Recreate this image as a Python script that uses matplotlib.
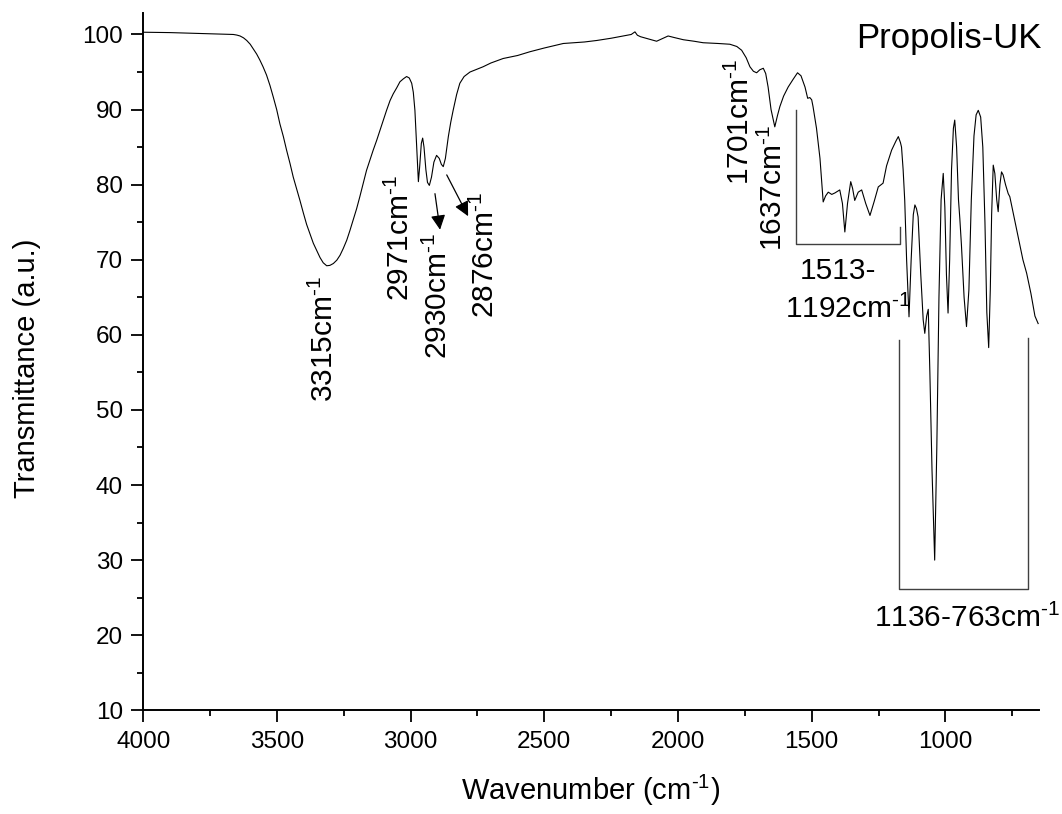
import matplotlib
matplotlib.use("Agg")
import matplotlib.pyplot as plt
from matplotlib.ticker import MultipleLocator

plt.rcParams['font.family'] = ['Liberation Sans', 'DejaVu Sans']
plt.rcParams['mathtext.fontset'] = 'custom'
plt.rcParams['mathtext.rm'] = 'Liberation Sans'
plt.rcParams['mathtext.it'] = 'Liberation Sans'
plt.rcParams['mathtext.default'] = 'regular'

# ---- data ----
wavenumber = [4000, 3900, 3800, 3720, 3690, 3663, 3650, 3638, 3625, 3613, 3600, 3589, 3576,
              3564, 3552, 3539, 3526, 3514, 3501, 3489, 3476, 3464, 3451, 3439, 3426,
              3414, 3401, 3389, 3376, 3364, 3351, 3339, 3327, 3314, 3302, 3289, 3276,
              3264, 3252, 3239, 3227, 3215, 3202, 3190, 3178, 3165, 3152, 3140, 3127,
              3115, 3102, 3090, 3077, 3065, 3052, 3040, 3027, 3015, 3005, 2996, 2990,
              2984, 2978, 2971, 2966, 2960, 2955, 2950, 2943, 2937, 2930, 2922, 2913,
              2903, 2893, 2885, 2878, 2870, 2859, 2850, 2841, 2828, 2816, 2800, 2778,
              2729, 2700, 2654, 2600, 2554, 2500, 2429, 2350, 2304, 2250, 2205, 2175,
              2161, 2152, 2140, 2110, 2080, 2055, 2037, 2015, 1980, 1940, 1906, 1850,
              1806, 1780, 1762, 1745, 1731, 1718, 1706, 1694, 1681, 1672, 1663, 1652,
              1638, 1628, 1619, 1605, 1588, 1570, 1553, 1540, 1525, 1515, 1507, 1500,
              1495, 1482, 1469, 1457, 1448, 1438, 1425, 1413, 1395, 1385, 1376, 1366,
              1354, 1347, 1339, 1326, 1313, 1298, 1282, 1266, 1251, 1233, 1220, 1201,
              1185, 1176, 1168, 1164, 1158, 1152, 1145, 1136, 1128, 1120, 1114, 1108,
              1102, 1092, 1083, 1077, 1070, 1064, 1058, 1050, 1040, 1032, 1024, 1016,
              1008, 1002, 996, 990, 984, 977, 970, 965, 958, 951, 946, 940, 930, 921,
              912, 903, 893, 885, 877, 868, 860, 852, 845, 838, 832, 827, 821, 815,
              808, 802.5, 796, 790, 784, 775, 765, 759, 745, 725, 710, 696, 680, 665, 653]
transmittance = [100.3, 100.25, 100.15, 100.07, 100.03, 100.0, 99.92, 99.8, 99.55, 99.2, 98.7, 98.1, 97.4,
                 96.6, 95.7, 94.6, 93.2, 91.7, 90.0, 88.1, 86.4, 84.6, 82.8, 81.0, 79.4,
                 77.9, 76.2, 74.7, 73.4, 72.2, 71.2, 70.3, 69.6, 69.2, 69.25, 69.5, 69.95,
                 70.6, 71.5, 72.6, 73.9, 75.3, 76.8, 78.4, 80.1, 81.9, 83.3, 84.6, 85.9,
                 87.2, 88.6, 89.9, 91.2, 92.1, 92.9, 93.7, 94.1, 94.4, 94.2, 93.5, 92.3,
                 89.9, 85.5, 80.4, 82.5, 85.5, 86.2, 85.0, 82.0, 80.3, 79.9, 81.0, 83.0,
                 83.9, 83.5, 82.7, 82.4, 83.5, 86.4, 88.3, 89.9, 92.0, 93.5, 94.4, 95.0,
                 95.7, 96.2, 96.8, 97.2, 97.7, 98.2, 98.8, 99.0, 99.2, 99.5, 99.8, 100.0,
                 100.35, 99.9, 99.7, 99.4, 99.1, 99.5, 99.8, 99.6, 99.3, 99.1, 98.9, 98.8,
                 98.7, 98.4, 97.9, 96.9, 95.7, 95.1, 94.9, 95.3, 95.5, 94.8, 93.0, 90.0,
                 87.7, 89.2, 90.4, 91.8, 93.0, 94.0, 94.9, 94.5, 93.0, 91.5, 91.6, 91.3,
                 90.4, 87.5, 83.5, 77.7, 78.5, 79.0, 78.7, 78.9, 79.3, 77.5, 73.7, 77.5,
                 80.4, 79.5, 77.9, 79.0, 79.3, 77.5, 75.9, 77.8, 79.7, 80.2, 82.5, 84.6,
                 85.8, 86.4, 85.6, 85.0, 82.0, 77.9, 70.0, 62.4, 70.0, 76.0, 77.3, 76.8,
                 75.7, 68.0, 62.0, 60.2, 62.5, 63.4, 55.0, 42.0, 30.0, 45.0, 65.0, 78.0,
                 81.5, 77.0, 68.0, 62.9, 70.0, 82.0, 87.5, 88.6, 85.0, 78.0, 75.5, 72.0, 65.0, 61.1,
                 66.0, 78.0, 86.5, 89.3, 89.9, 89.0, 85.0, 75.0, 63.0, 58.3, 66.0, 76.0, 82.6, 81.5,
                 78.0, 76.4, 80.0, 81.7, 81.3, 80.0, 78.8, 78.4, 76.0, 72.5, 70.0, 68.2, 65.5, 62.5, 61.5]

x_ticks = [4000, 3500, 3000, 2500, 2000, 1500, 1000]
y_ticks = [10, 20, 30, 40, 50, 60, 70, 80, 90, 100]

SUP = r"$^{\text{-}1}$"

fig = plt.figure(figsize=(10.62, 8.14), dpi=100)
ax = fig.add_axes([0.1349, 0.1274, 0.8434, 0.8570])

ax.plot(wavenumber, transmittance, color='black', lw=0.8)

ax.set_xlim(4000, 650)
ax.set_ylim(10, 102.9)
ax.set_xticks(x_ticks)
ax.set_yticks(y_ticks)
ax.xaxis.set_minor_locator(MultipleLocator(250))
ax.yaxis.set_minor_locator(MultipleLocator(5))

for s in ['top', 'right']:
    ax.spines[s].set_visible(False)
for s in ['left', 'bottom']:
    ax.spines[s].set_linewidth(1.4)

ax.tick_params(which='major', direction='out', length=8.6, width=1.3, labelsize=17.5, pad=6)
ax.tick_params(which='minor', direction='out', length=4.3, width=1.3)

ax.set_xlabel("Wavenumber (cm" + SUP + ")", fontsize=21)
ax.set_ylabel("Transmittance (a.u.)", fontsize=21)
ax.xaxis.set_label_coords(0.499, -0.09)
ax.yaxis.set_label_coords(-0.114, 0.49)

ax.text(1.003, 0.949, "Propolis-UK", transform=ax.transAxes, ha='right', va='baseline', fontsize=25)

fs = 21.5
ax.text(3322, 59.4, "3315cm" + SUP, rotation=90, ha='center', va='center', fontsize=fs)
ax.text(3040, 72.9, "2971cm" + SUP, rotation=90, ha='center', va='center', fontsize=fs)
ax.text(2898, 65.2, "2930cm" + SUP, rotation=90, ha='center', va='center', fontsize=fs)
ax.text(2722, 70.7, "2876cm" + SUP, rotation=90, ha='center', va='center', fontsize=fs)
ax.text(1765, 88.3, "1701cm" + SUP, rotation=90, ha='center', va='center', fontsize=fs)
ax.text(1645, 79.5, "1637cm" + SUP, rotation=90, ha='center', va='center', fontsize=fs)
ax.text(1400, 67.5, "1513-", ha='center', va='baseline', fontsize=fs)
ax.text(1364, 62.2, "1192cm" + SUP, ha='center', va='baseline', fontsize=fs)
ax.text(918, 21.1, "1136-763cm" + SUP, ha='center', va='baseline', fontsize=fs)

arrow_kw = dict(arrowstyle='-|>', color='black', lw=0.9, mutation_scale=22, shrinkA=0, shrinkB=0)
ax.annotate("", xy=(2890, 74.0), xytext=(2909, 78.8), arrowprops=arrow_kw)
ax.annotate("", xy=(2785, 75.8), xytext=(2865, 81.3), arrowprops=arrow_kw)

bracket_color = '#404040'
ax.plot([1559, 1559, 1169, 1169], [89.9, 72.1, 72.1, 74.3], color=bracket_color, lw=1.0)
ax.plot([1173, 1173, 690, 690], [59.3, 26.1, 26.1, 59.6], color=bracket_color, lw=1.0)

fig.savefig("out.png", dpi=100)
